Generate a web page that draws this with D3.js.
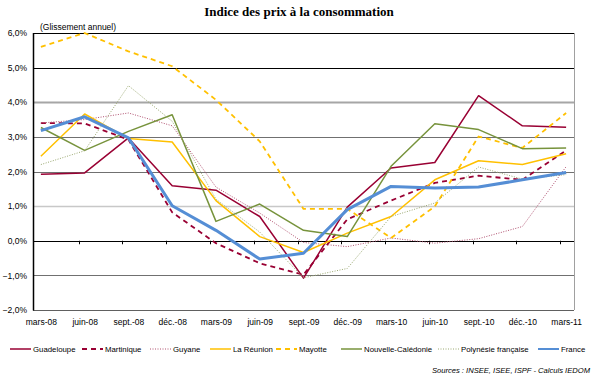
<!DOCTYPE html>
<html>
<head>
<meta charset="utf-8">
<script src="https://cdn.jsdelivr.net/npm/d3@7"></script>
<style>
  body { margin: 0; background: #fff; }
</style>
</head>
<body>
<div id="chart"></div>
<script>
var width = 597,
	height = 381;

// quarterly labels
var months = ['mars-08', 'juin-08', 'sept.-08', 'déc.-08', 'mars-09', 'juin-09', 'sept.-09',
	'déc.-09', 'mars-10', 'juin-10', 'sept.-10', 'déc.-10', 'mars-11'];

var yTicks = [-2, -1, 0, 1, 2, 3, 4, 5, 6];

// year-on-year change, %
var guadeloupe = [1.92, 1.96, 2.97, 1.59, 1.46, 0.70, -1.08, 0.97, 2.10, 2.26, 4.19, 3.32, 3.28];
var martinique = [3.40, 3.39, 2.92, 0.82, -0.07, -0.65, -0.98, 0.62, 1.16, 1.67, 1.88, 1.76, 2.61];
var guyane = [3.40, 3.50, 3.69, 3.32, 1.55, 0.80, -0.05, -0.17, 0.08, -0.07, 0.06, 0.41, 2.14];
var reunion = [2.44, 3.66, 2.95, 2.85, 1.16, 0.12, -0.34, 0.22, 0.70, 1.76, 2.31, 2.20, 2.51];
var mayotte = [5.60, 6.00, 5.47, 5.04, 4.07, 2.87, 0.92, 0.92, 0.08, 0.99, 3.01, 2.68, 3.69];
var caledonie = [3.27, 2.61, 3.16, 3.64, 0.56, 1.06, 0.30, 0.12, 2.15, 3.38, 3.21, 2.66, 2.68];
var polynesie = [2.20, 2.60, 4.48, 3.45, 1.20, 0.25, -1.07, -0.80, 0.70, 1.09, 2.13, 1.78, 1.91];
var france = [3.18, 3.58, 2.97, 1.01, 0.30, -0.53, -0.36, 0.90, 1.57, 1.52, 1.55, 1.76, 1.97];

var seriesNames = ['Guadeloupe', 'Martinique', 'Guyane', 'La Réunion', 'Mayotte',
	'Nouvelle-Calédonie', 'Polynésie française', 'France'];
var seriesValues = [guadeloupe, martinique, guyane, reunion, mayotte, caledonie, polynesie, france];

var styles = [
	{color: '#990033', w: 1.5, dash: null},
	{color: '#990033', w: 1.8, dash: '5,4'},
	{color: '#B0506F', w: 1, dash: '1,1.5'},
	{color: '#FFC000', w: 1.5, dash: null},
	{color: '#FFC000', w: 1.8, dash: '5,4'},
	{color: '#77933C', w: 1.5, dash: null},
	{color: '#9AA870', w: 1, dash: '1,1.5'},
	{color: '#558ED5', w: 3, dash: null}
];

var series = seriesNames.map(function(n, i) {
	return {name: n, values: seriesValues[i], style: styles[i]};
});

var FONT = '"Liberation Sans", Arial, sans-serif';
var plotLeft = 33, plotRight = 574, plotTop = 33, plotBottom = 310;

var svg = d3.select('#chart').append('svg')
	.attr('width', width)
	.attr('height', height);

var x = d3.scalePoint()
	.domain(months)
	.range([plotLeft, plotRight])
	.padding(0.18);

var y = d3.scaleLinear()
	.domain([-2, 6])
	.range([plotBottom, plotTop]);

// gridlines, each a slightly different grey as in the original
var gridColor = {'-2': '#606060', '-1': '#707070', '0': '#000', '1': '#c8c8c8', '2': '#707070',
	'3': '#707070', '4': '#a6a6a6', '5': '#000', '6': '#000'};
var gridWidth = {'4': 2, '1': 1.5};

svg.append('g')
	.selectAll('line')
	.data(yTicks)
	.enter()
	.append('line')
	.attr('x1', plotLeft)
	.attr('x2', plotRight)
	.attr('y1', d => Math.round(y(d)) + 0.5)
	.attr('y2', d => Math.round(y(d)) + 0.5)
	.attr('stroke', d => gridColor[d])
	.attr('stroke-width', d => gridWidth[d] || 1);

svg.append('line')
	.attr('x1', plotRight + 0.5).attr('x2', plotRight + 0.5)
	.attr('y1', plotTop).attr('y2', plotBottom)
	.attr('stroke', '#a0a0a0');

svg.append('line')
	.attr('x1', plotLeft + 0.5).attr('x2', plotLeft + 0.5)
	.attr('y1', plotTop).attr('y2', plotBottom + 0.5)
	.attr('stroke', '#000')
	.attr('stroke-width', 1.5);

// y axis labels
svg.append('g')
	.attr('transform', 'translate(' + plotLeft + ',0)')
	.call(d3.axisLeft(y)
		.tickValues(yTicks)
		.tickSize(0)
		.tickPadding(6)
		.tickFormat(d => d3.format('.1f')(d).replace('.', ',') + '%'))
	.call(g => g.select('.domain').remove())
	.selectAll('text')
	.attr('font-size', 8.5)
	.attr('font-family', FONT)
	.attr('fill', '#000');

// x tick marks sit on the zero line, a little left of each point
svg.append('g')
	.selectAll('line')
	.data(months.slice(1))
	.enter()
	.append('line')
	.attr('x1', d => Math.round(x(d) - 6) + 0.5)
	.attr('x2', d => Math.round(x(d) - 6) + 0.5)
	.attr('y1', y(0))
	.attr('y2', y(0) + 3.5)
	.attr('stroke', '#000');

// x labels
svg.append('g')
	.attr('transform', 'translate(0,' + plotBottom + ')')
	.call(d3.axisBottom(x).tickSize(0).tickPadding(9))
	.call(g => g.select('.domain').remove())
	.selectAll('text')
	.attr('font-size', 8.5)
	.attr('font-family', FONT)
	.attr('fill', '#000');

var line = d3.line()
	.x((d, i) => x(months[i]))
	.y(d => y(d));

svg.append('g')
	.selectAll('path')
	.data(series)
	.enter()
	.append('path')
	.attr('d', d => line(d.values))
	.attr('fill', 'none')
	.attr('stroke', d => d.style.color)
	.attr('stroke-width', d => d.style.w)
	.attr('stroke-dasharray', d => d.style.dash)
	.attr('stroke-linejoin', 'round');

// titles
svg.append('text')
	.attr('x', 299)
	.attr('y', 16)
	.attr('text-anchor', 'middle')
	.attr('font-size', 13)
	.attr('font-weight', 'bold')
	.attr('font-family', '"Liberation Serif", serif')
	.text('Indice des prix à la consommation');

svg.append('text')
	.attr('x', 40)
	.attr('y', 30)
	.attr('font-size', 8.5)
	.attr('font-family', FONT)
	.text('(Glissement annuel)');

// legend
var legendX = [10, 82, 150, 210, 276, 341, 438, 538];
var legend = svg.append('g')
	.selectAll('g')
	.data(series)
	.enter()
	.append('g')
	.attr('transform', (d, i) => 'translate(' + legendX[i] + ',349)');

legend.append('line')
	.attr('x1', 0).attr('x2', 21)
	.attr('stroke', d => d.style.color)
	.attr('stroke-width', d => Math.min(d.style.w, 2))
	.attr('stroke-dasharray', d => d.style.dash);

legend.append('text')
	.attr('x', 23)
	.attr('y', 3)
	.attr('font-size', 7.8)
	.attr('font-family', FONT)
	.text(d => d.name);

svg.append('text')
	.attr('x', 590)
	.attr('y', 373)
	.attr('text-anchor', 'end')
	.attr('font-size', 7.6)
	.attr('font-style', 'italic')
	.attr('font-family', FONT)
	.text('Sources : INSEE, ISEE, ISPF - Calculs IEDOM');
</script>
</body>
</html>
